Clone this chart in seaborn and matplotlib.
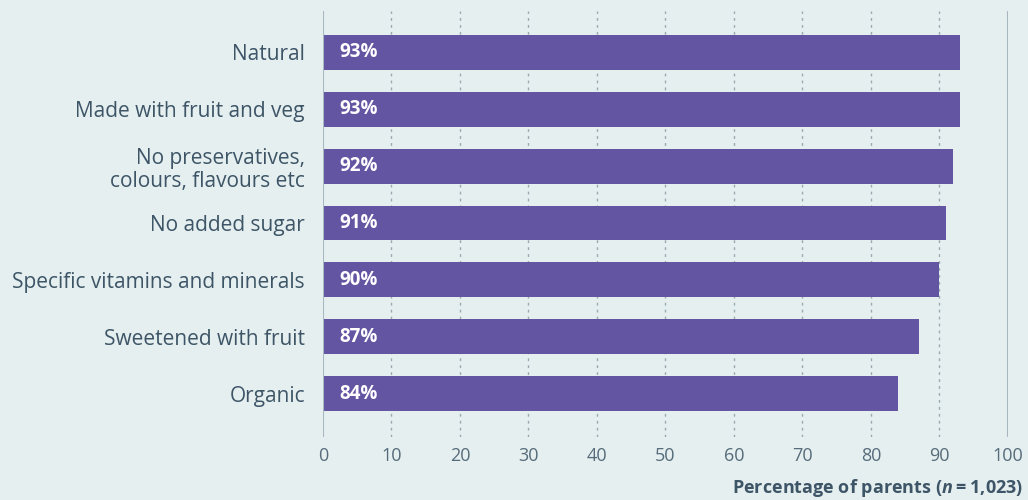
import matplotlib
matplotlib.use("Agg")
import matplotlib.pyplot as plt
import seaborn as sns
import pandas as pd

categories = [
    "Natural",
    "Made with fruit and veg",
    "No preservatives,\ncolours, flavours etc",
    "No added sugar",
    "Specific vitamins and minerals",
    "Sweetened with fruit",
    "Organic",
]
values = [93, 93, 92, 91, 90, 87, 84]
x_ticks = [0, 10, 20, 30, 40, 50, 60, 70, 80, 90, 100]

BG = "#e5eff0"
BAR = "#6455a2"
TEXT = "#3d5566"
GRID = "#9aa8b0"

sns.set_theme(style="white")
plt.rcParams["font.family"] = ["Open Sans", "DejaVu Sans"]
plt.rcParams["mathtext.fontset"] = "custom"
plt.rcParams["mathtext.it"] = "Open Sans:italic:bold"
plt.rcParams["mathtext.rm"] = "Open Sans:bold"

df = pd.DataFrame({"category": categories, "value": values})

fig = plt.figure(figsize=(10.28, 5.0), dpi=100, facecolor=BG)
ax = fig.add_axes([0.3142, 0.126, 0.6663, 0.852])
ax.set_facecolor(BG)

sns.barplot(data=df, x="value", y="category", color=BAR, width=0.615,
            saturation=1, linewidth=0, ax=ax, zorder=3)

for patch, v in zip(ax.patches, values):
    cy = patch.get_y() + patch.get_height() / 2
    ax.text(2.4, cy, f"{v}%", color="white", fontsize=13.5, fontweight="bold",
            va="center", ha="left", zorder=4)

ax.set_xlim(0, 100)
ax.set_ylim(len(categories) - 1 + 0.765, -0.73)
ax.set_xticks(x_ticks)
ax.set_xticklabels([str(t) for t in x_ticks])

for t in x_ticks[1:-1]:
    ax.axvline(t, color=GRID, linestyle=(0, (2, 3)), linewidth=1.0, zorder=1)
for t in (0, 100):
    ax.axvline(t, color="#a9b8c0", linewidth=1.5, zorder=5)

for s in ax.spines.values():
    s.set_visible(False)

ax.tick_params(axis="y", length=0, pad=13, labelsize=15, labelcolor=TEXT)
ax.tick_params(axis="x", length=0, pad=7, labelsize=13, labelcolor="#566c7a")
ax.set_ylabel("")
ax.set_xlabel("")
for lbl in ax.get_yticklabels():
    lbl.set_multialignment("right")
    lbl.set_linespacing(1.15)

fig.text(0.995, 0.014, "Percentage of parents ($\\it{n}$\u2009=\u20091,023)",
         fontsize=13, fontweight="bold", color=TEXT, ha="right", va="baseline")

fig.savefig("out.png", dpi=100, facecolor=BG)
